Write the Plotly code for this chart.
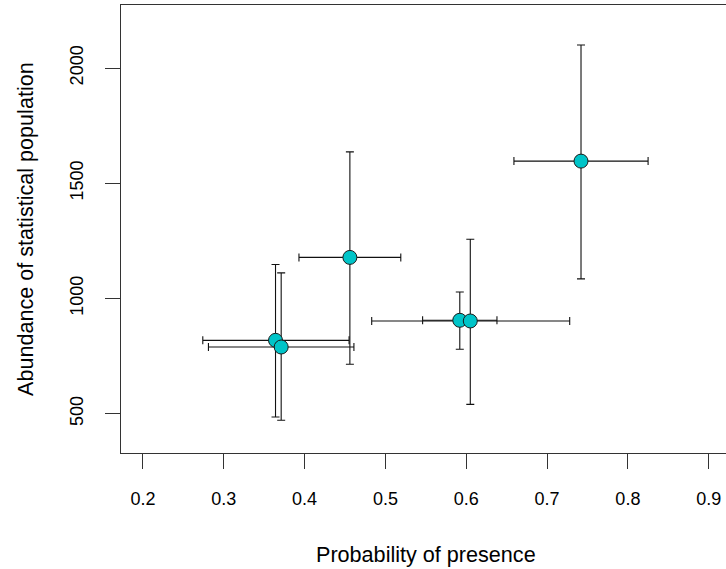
import plotly.graph_objects as go

# Data
presence = [0.364, 0.371, 0.456, 0.592, 0.605, 0.742]
presence_lo = [0.274, 0.281, 0.393, 0.546, 0.483, 0.659]
presence_hi = [0.455, 0.461, 0.519, 0.638, 0.728, 0.825]
abundance = [818, 789, 1178, 905, 902, 1596]
abundance_lo = [485, 471, 714, 779, 540, 1085]
abundance_hi = [1147, 1111, 1636, 1028, 1257, 2100]

x_ticks = [0.2, 0.3, 0.4, 0.5, 0.6, 0.7, 0.8, 0.9]
x_tick_labels = ["0.2", "0.3", "0.4", "0.5", "0.6", "0.7", "0.8", "0.9"]
y_ticks = [500, 1000, 1500, 2000]
y_tick_labels = ["500", "1000", "1500", "2000"]

FONT = "Liberation Sans, Arial, sans-serif"
LINE = "#333333"

fig = go.Figure()
fig.add_trace(go.Scatter(
    x=presence,
    y=abundance,
    mode="markers",
    marker=dict(size=14, color="#00C4C8", line=dict(color="#1a1a1a", width=1)),
    error_x=dict(
        type="data", symmetric=False,
        array=[h - v for h, v in zip(presence_hi, presence)],
        arrayminus=[v - l for v, l in zip(presence, presence_lo)],
        color="#111111", thickness=1.1, width=4,
    ),
    error_y=dict(
        type="data", symmetric=False,
        array=[h - v for h, v in zip(abundance_hi, abundance)],
        arrayminus=[v - l for v, l in zip(abundance, abundance_lo)],
        color="#111111", thickness=1.1, width=4,
    ),
    showlegend=False,
    hoverinfo="x+y",
))

fig.update_layout(
    width=726,
    height=569,
    margin=dict(l=121, r=0, t=5, b=116),
    paper_bgcolor="white",
    plot_bgcolor="white",
    font=dict(family=FONT, size=18, color="black"),
    xaxis=dict(
        range=[0.1728, 0.9214],
        tickvals=x_ticks,
        ticktext=x_tick_labels,
        ticks="outside",
        ticklen=15,
        tickcolor=LINE,
        tickwidth=1,
        showline=True,
        linecolor=LINE,
        linewidth=1,
        mirror=True,
        showgrid=False,
        zeroline=False,
        ticklabelstandoff=14,
        tickfont=dict(size=18),
    ),
    yaxis=dict(
        range=[328.9, 2273.7],
        tickvals=y_ticks,
        ticktext=y_tick_labels,
        ticks="outside",
        ticklen=15,
        tickcolor=LINE,
        tickwidth=1,
        showline=True,
        linecolor=LINE,
        linewidth=1,
        mirror=False,
        showgrid=False,
        zeroline=False,
        tickangle=-90,
        ticklabelstandoff=15,
        tickfont=dict(size=18),
    ),
    annotations=[
        dict(
            text="Probability of presence",
            xref="paper", yref="paper",
            x=0.504, y=0, xanchor="center", yanchor="middle",
            yshift=-101, showarrow=False,
            font=dict(family=FONT, size=21.6, color="black"),
        ),
        dict(
            text="Abundance of statistical population",
            xref="paper", yref="paper",
            x=0, y=0.5, xanchor="center", yanchor="middle",
            xshift=-96, textangle=-90, showarrow=False,
            font=dict(family=FONT, size=21.6, color="black"),
        ),
    ],
)

fig.write_html("out.html")
